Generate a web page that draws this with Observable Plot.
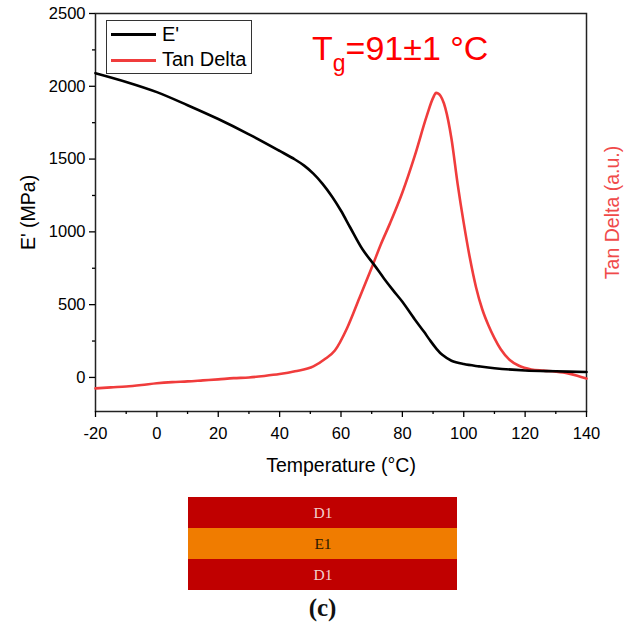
<!DOCTYPE html>
<html>
<head>
<meta charset="utf-8">
<script src="https://cdn.jsdelivr.net/npm/d3@7"></script>
<script src="https://cdn.jsdelivr.net/npm/@observablehq/plot@0.6"></script>
<style>
  body { margin: 0; background: #fff; font-family: "Liberation Sans", Arial, sans-serif; }
  #wrap { position: relative; width: 629px; height: 629px; }
  #legend { position: absolute; left: 106px; top: 20px; width: 146px; height: 54px; border: 1px solid #333; background: #fff; box-sizing: border-box; }
  .lg { position: absolute; left: 4px; height: 0; width: 45px; border-top: 3px solid; }
  .lt { position: absolute; left: 55px; font-size: 20px; line-height: 20px; color: #000; }
  #tg { position: absolute; left: 312px; top: 28px; font-size: 34px; color: #ff0000; line-height: 40px; white-space: nowrap; }
  #tg sub { font-size: 23px; vertical-align: -11px; line-height: 0; }
  #cap { position: absolute; left: 0; width: 645px; text-align: center; top: 594px; font-family: "Liberation Serif", "DejaVu Serif", serif; font-weight: bold; font-size: 25px; color: #111; }
</style>
</head>
<body>
<div id="wrap"></div>
<script>
// Storage modulus E' (MPa)
const eTemp = [-20,-10,0,10,20,30,40,45,48,51,54,57,60,63,67,71,74,77,80,84,87,89,91,93,96,100,105,110,120,130,140];
const eMod  = [2090,2030,1960,1870,1775,1670,1556,1497,1455,1400,1330,1245,1145,1030,880,768,680,598,520,400,315,255,200,155,115,92,76,63,48,42,37];
// Tan Delta (a.u., drawn on the same vertical scale)
const tdTemp = [-20,-15,-10,-5,0,5,10,15,20,25,30,35,40,45,51,55,58,62,66,70,73,76,80,84,88,90,91,92,94,96,98,100,102,104,106,108,110,112,115,118,122,126,130,134,137,140];
const tdVal  = [-75,-68,-62,-52,-40,-32,-27,-20,-13,-5,0,10,23,42,76,130,185,340,546,753,915,1060,1270,1520,1800,1920,1955,1945,1850,1640,1330,1060,820,620,470,360,270,195,120,80,55,47,40,28,12,-8];

const yMajor = [0,500,1000,1500,2000,2500];
const yMinor = [250,750,1250,1750,2250];
const xMajor = [-20,0,20,40,60,80,100,120,140];
const xMinor = [-10,10,30,50,70,90,110,130];

const layerNames  = ["D1","E1","D1"];
const layerColors = ["#c00000","#f07c00","#c00000"];
const layerText   = ["#f2cfcf","#2a1800","#f2cfcf"];

const eData = eTemp.map((t,i)=>({t, v:eMod[i]}));
const tdData = tdTemp.map((t,i)=>({t, v:tdVal[i]}));

const red = "#f03c3c";
const main = Plot.plot({
  width: 629, height: 480,
  marginLeft: 95, marginRight: 43, marginTop: 13, marginBottom: 69,
  style: { fontFamily: "'Liberation Sans', Arial, sans-serif", fontSize: "16.5px", color: "#000", background: "#fff" },
  x: { domain: [-20,140] },
  y: { domain: [-234,2500] },
  marks: [
    Plot.frame({ stroke: "#222", strokeWidth: 1.5 }),
    Plot.axisX({ ticks: xMajor, tickSize: 6, tickPadding: 10, tickFormat: d=>String(d), label: null, stroke:"#000", strokeWidth:1.3 }),
    Plot.axisX({ ticks: xMinor, tickSize: 3, tickFormat: () => "", label: null, stroke:"#000", strokeWidth:1.3 }),
    Plot.axisY({ ticks: yMajor, tickSize: 6, tickPadding: 4, tickFormat: d=>String(d), label: null, stroke:"#000", strokeWidth:1.3 }),
    Plot.axisY({ ticks: yMinor, tickSize: 3, tickFormat: () => "", label: null, stroke:"#000", strokeWidth:1.3 }),
    Plot.text(["Temperature (°C)"], { frameAnchor: "bottom", dy: 60, fontSize: 19.5, fill: "#000" }),
    Plot.text(["E' (MPa)"], { frameAnchor: "left", textAnchor: "middle", dx: -67, rotate: -90, fontSize: 19.5, fill: "#000" }),
    Plot.text(["Tan Delta (a.u.)"], { frameAnchor: "right", textAnchor: "middle", dx: 26, rotate: -90, fontSize: 19.5, fill: "#f04a4a" }),
    Plot.line(tdData, { x: "t", y: "v", stroke: red, strokeWidth: 2.6, curve: "monotone-x" }),
    Plot.line(eData, { x: "t", y: "v", stroke: "#000", strokeWidth: 2.6, curve: "catmull-rom" })
  ]
});

const layers = layerNames.map((n,i)=>({i, n, c: layerColors[i], tc: layerText[i]}));
const diagram = Plot.plot({
  width: 629, height: 149,
  margin: 0,
  style: { background: "#fff" },
  x: { domain: [0,1], range: [188,457], axis: null },
  y: { domain: [0,3], range: [17,110], axis: null },
  marks: [
    Plot.rect(layers, { x1: 0, x2: 1, y1: d=>d.i, y2: d=>d.i+1, fill: d=>d.c }),
    Plot.text(layers, { x: 0.5, y: d=>d.i+0.5, text: "n", fill: d=>d.tc, fontSize: 15.5, fontFamily: "'Liberation Serif', 'DejaVu Serif', serif" })
  ]
});

const wrap = document.getElementById("wrap");
wrap.appendChild(main);
wrap.appendChild(diagram);
main.style.display = "block";
diagram.style.display = "block";

const lg = document.createElement("div");
lg.id = "legend";
lg.innerHTML = '<div class="lg" style="top:12px;border-color:#000"></div><div class="lt" style="top:3px">E\'</div>' +
               '<div class="lg" style="top:38px;border-color:' + red + '"></div><div class="lt" style="top:28px">Tan Delta</div>';
wrap.appendChild(lg);

const tg = document.createElement("div");
tg.id = "tg";
tg.innerHTML = 'T<sub>g</sub>=91±1 °C';
wrap.appendChild(tg);

const cap = document.createElement("div");
cap.id = "cap";
cap.textContent = "(c)";
wrap.appendChild(cap);
</script>
</body>
</html>
